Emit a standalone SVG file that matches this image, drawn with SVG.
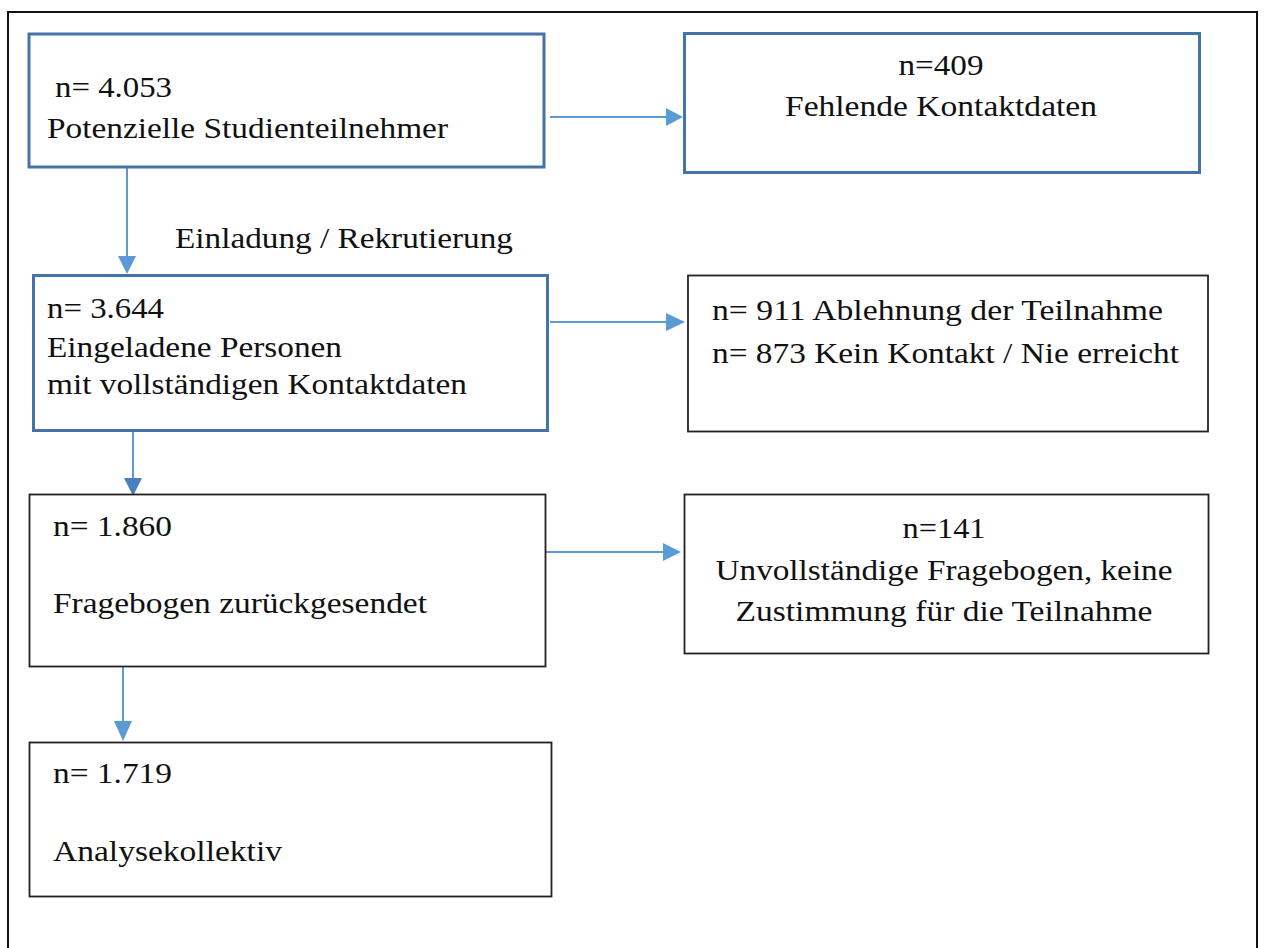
<svg xmlns="http://www.w3.org/2000/svg" width="1264" height="948" viewBox="0 0 1264 948">
<style>
.frame{fill:none;stroke:#111;stroke-width:2}
.bb{fill:#fff;stroke:#4673a6;stroke-width:3}
.kb{fill:#fff;stroke:#222;stroke-width:1.8}
.t{font-family:"Liberation Serif","Times New Roman",serif;font-size:30px;fill:#111}
.c{text-anchor:middle}
.ln{stroke:#5b9bd5;stroke-width:2;fill:none}
.hd{fill:#5b9bd5}
</style>
<rect width="1264" height="948" fill="#fff"/>
<rect class="frame" x="8" y="12" width="1249" height="960"/>
<g id="connectors">
  <line class="ln" x1="550" y1="117" x2="668" y2="117"/>
  <polygon class="hd" points="683,117 666,108 666,126"/>
  <line class="ln" x1="127" y1="168" x2="127" y2="258"/>
  <polygon class="hd" points="127,274 118,256 136,256"/>
  <line class="ln" x1="550" y1="322" x2="668" y2="322"/>
  <polygon class="hd" points="685,322 666,313 666,331"/>
  <line class="ln" x1="133" y1="432" x2="133" y2="480"/>
  <polygon class="hd" points="133,496 124,478 142,478" style="fill:#4a7fc0"/>
  <line class="ln" x1="545" y1="552" x2="665" y2="552"/>
  <polygon class="hd" points="681,552 663,543 663,561"/>
  <line class="ln" x1="123" y1="659" x2="123" y2="723"/>
  <polygon class="hd" points="123,741 114,721 132,721"/>
</g>
<g id="node-potenzielle">
  <rect class="bb" x="29" y="34" width="515" height="133"/>
  <text class="t" x="55" y="97" textLength="117" lengthAdjust="spacingAndGlyphs">n= 4.053</text>
  <text class="t" x="47" y="138" textLength="401" lengthAdjust="spacingAndGlyphs">Potenzielle Studienteilnehmer</text>
</g>
<g id="label-einladung">
  <text class="t" x="175" y="248" textLength="338" lengthAdjust="spacingAndGlyphs">Einladung / Rekrutierung</text>
</g>
<g id="node-fehlende">
  <rect class="bb" x="684.5" y="33.5" width="515" height="139"/>
  <text class="t c" x="941" y="75" textLength="85" lengthAdjust="spacingAndGlyphs">n=409</text>
  <text class="t c" x="941" y="116" textLength="312" lengthAdjust="spacingAndGlyphs">Fehlende Kontaktdaten</text>
</g>
<g id="node-eingeladene">
  <rect class="bb" x="33.5" y="275.5" width="514" height="155"/>
  <text class="t" x="47" y="318" textLength="117" lengthAdjust="spacingAndGlyphs">n= 3.644</text>
  <text class="t" x="47" y="357" textLength="295" lengthAdjust="spacingAndGlyphs">Eingeladene Personen</text>
  <text class="t" x="47" y="394" textLength="420" lengthAdjust="spacingAndGlyphs">mit vollständigen Kontaktdaten</text>
</g>
<g id="node-ablehnung">
  <rect class="kb" x="688" y="275.5" width="520" height="156"/>
  <text class="t" x="712" y="320" textLength="451" lengthAdjust="spacingAndGlyphs">n= 911 Ablehnung der Teilnahme</text>
  <text class="t" x="712" y="363" textLength="467" lengthAdjust="spacingAndGlyphs">n= 873 Kein Kontakt / Nie erreicht</text>
</g>
<g id="node-fragebogen">
  <rect class="kb" x="29.5" y="494.5" width="516" height="172"/>
  <text class="t" x="53" y="536" textLength="119" lengthAdjust="spacingAndGlyphs">n= 1.860</text>
  <text class="t" x="53" y="613" textLength="374" lengthAdjust="spacingAndGlyphs">Fragebogen zurückgesendet</text>
</g>
<g id="node-unvollstaendig">
  <rect class="kb" x="684.5" y="494.5" width="524" height="159"/>
  <text class="t c" x="944" y="538" textLength="83" lengthAdjust="spacingAndGlyphs">n=141</text>
  <text class="t c" x="944" y="580" textLength="457" lengthAdjust="spacingAndGlyphs">Unvollständige Fragebogen, keine</text>
  <text class="t c" x="944" y="621" textLength="417" lengthAdjust="spacingAndGlyphs">Zustimmung für die Teilnahme</text>
</g>
<g id="node-analyse">
  <rect class="kb" x="29.5" y="742.5" width="522" height="154"/>
  <text class="t" x="53" y="783" textLength="119" lengthAdjust="spacingAndGlyphs">n= 1.719</text>
  <text class="t" x="53" y="861" textLength="229" lengthAdjust="spacingAndGlyphs">Analysekollektiv</text>
</g>
</svg>
